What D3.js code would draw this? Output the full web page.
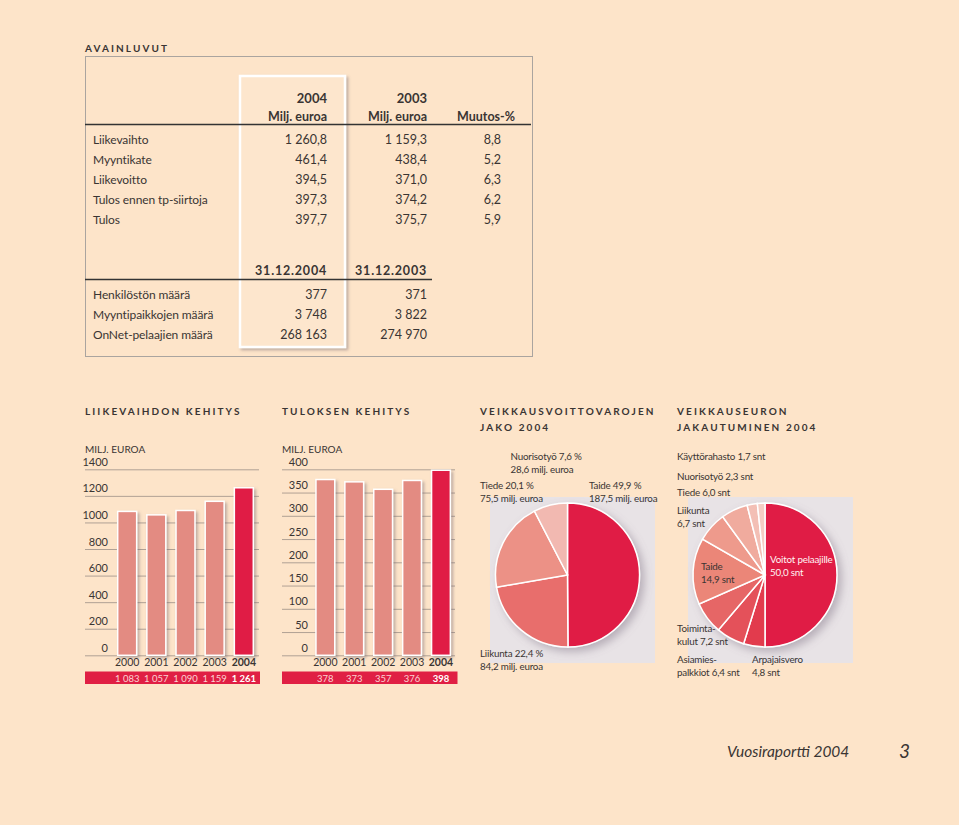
<!DOCTYPE html>
<html>
<head>
<meta charset="utf-8">
<script src="https://cdn.jsdelivr.net/npm/d3@7"></script>
<style>
  body { margin: 0; background: #fde4c9; }
  svg { display: block; font-family: Lato, "Noto Sans", sans-serif; }
</style>
</head>
<body>
<script>
// avainluvut table
var rowLabels = ['Liikevaihto', 'Myyntikate', 'Liikevoitto', 'Tulos ennen tp-siirtoja', 'Tulos'];
var rows2004 = ['1 260,8', '461,4', '394,5', '397,3', '397,7'];
var rows2003 = ['1 159,3', '438,4', '371,0', '374,2', '375,7'];
var rowsChange = ['8,8', '5,2', '6,3', '6,2', '5,9'];
var countLabels = ['Henkilöstön määrä', 'Myyntipaikkojen määrä', 'OnNet-pelaajien määrä'];
var counts2004 = ['377', '3 748', '268 163'];
var counts2003 = ['371', '3 822', '274 970'];

// bar charts
var years = ['2000', '2001', '2002', '2003', '2004'];
var revenue = [1083, 1057, 1090, 1159, 1261];
var revenueLabels = ['1 083', '1 057', '1 090', '1 159', '1 261'];
var revenueTicks = [0, 200, 400, 600, 800, 1000, 1200, 1400];
var profit = [378, 373, 357, 376, 398];
var profitTicks = [0, 50, 100, 150, 200, 250, 300, 350, 400];

// pies
var pie1Names = ['Taide', 'Liikunta', 'Tiede', 'Nuorisotyö'];
var pie1Values = [49.9, 22.4, 20.1, 7.6];
var pie1Colors = ['#e01f44', '#e86e6c', '#ec9186', '#f2b9b1'];

var pie2Names = ['Voitot pelaajille', 'Arpajaisvero', 'Asiamiespalkkiot', 'Toimintakulut', 'Taide', 'Liikunta', 'Tiede', 'Nuorisotyö', 'Käyttörahasto'];
var pie2Values = [50.0, 4.8, 6.4, 7.2, 14.9, 6.7, 6.0, 2.3, 1.7];
var pie2Colors = ['#e01f44', '#e23a4d', '#e4515a', '#e66666', '#eb8678', '#ee9a8c', '#f0ab9e', '#f3bfb5', '#f5cdc4'];

var red = '#e01f44';
var salmon = '#e38b82';
var ink = '#3a3533';

var svg = d3.select('body').append('svg')
  .attr('width', 959)
  .attr('height', 825);

var defs = svg.append('defs');
defs.append('filter').attr('id', 'shadow')
  .attr('x', '-20%').attr('y', '-20%').attr('width', '150%').attr('height', '150%')
  .append('feDropShadow')
  .attr('dx', 2).attr('dy', 2).attr('stdDeviation', 1.5)
  .attr('flood-color', '#6d6470').attr('flood-opacity', 0.45);
defs.append('filter').attr('id', 'softshadow')
  .attr('x', '-20%').attr('y', '-20%').attr('width', '150%').attr('height', '150%')
  .append('feDropShadow')
  .attr('dx', 4).attr('dy', 4).attr('stdDeviation', 4)
  .attr('flood-color', '#7a7080').attr('flood-opacity', 0.45);

function title(x, y, lines) {
  lines.forEach(function (t, i) {
    svg.append('text')
      .attr('x', x).attr('y', y + i * 16)
      .attr('font-size', 10).attr('font-weight', 'bold')
      .attr('letter-spacing', 2.1)
      .attr('fill', ink)
      .text(t);
  });
}

function txt(x, y, t, size, anchor, weight, fill) {
  return svg.append('text')
    .attr('x', x).attr('y', y)
    .attr('font-size', size || 12)
    .attr('text-anchor', anchor || 'start')
    .attr('font-weight', weight || 'normal')
    .attr('fill', fill || ink)
    .text(t);
}

// pie labels are a bit narrower
function small(x, y, t, fill) {
  return txt(x, y, t, 9.8, 'start', 'normal', fill).attr('letter-spacing', -0.2);
}

// ---------- table ----------
title(85, 52, ['AVAINLUVUT']);
svg.append('rect')
  .attr('x', 85.5).attr('y', 56.5).attr('width', 447).attr('height', 300)
  .attr('fill', 'none').attr('stroke', '#aaa49f').attr('stroke-width', 1);

svg.append('rect')
  .attr('x', 240).attr('y', 76).attr('width', 105).attr('height', 271)
  .attr('fill', '#fde6cd').attr('stroke', '#ffffff').attr('stroke-width', 2.5)
  .attr('filter', 'url(#shadow)');

txt(327, 103, '2004', 13, 'end', 'bold');
txt(427, 103, '2003', 13, 'end', 'bold');
txt(327, 121, 'Milj. euroa', 12.5, 'end', 'bold');
txt(427, 121, 'Milj. euroa', 12.5, 'end', 'bold');
txt(515, 121, 'Muutos-%', 12.5, 'end', 'bold');
svg.append('line')
  .attr('x1', 85).attr('x2', 531).attr('y1', 124.5).attr('y2', 124.5)
  .attr('stroke', '#333').attr('stroke-width', 1.3);

rowLabels.forEach(function (l, i) {
  var y = 144 + i * 20;
  txt(93, y, l).attr('letter-spacing', -0.1);
  txt(327, y, rows2004[i], 12.5, 'end');
  txt(427, y, rows2003[i], 12.5, 'end');
  txt(501, y, rowsChange[i], 12.5, 'end');
});

txt(327, 275, '31.12.2004', 12.5, 'end', 'bold').attr('letter-spacing', 0.8);
txt(427, 275, '31.12.2003', 12.5, 'end', 'bold').attr('letter-spacing', 0.8);
svg.append('line')
  .attr('x1', 85).attr('x2', 432).attr('y1', 279.5).attr('y2', 279.5)
  .attr('stroke', '#333').attr('stroke-width', 1.3);

countLabels.forEach(function (l, i) {
  var y = 299 + i * 20;
  txt(93, y, l).attr('letter-spacing', -0.1);
  txt(327, y, counts2004[i], 12.5, 'end');
  txt(427, y, counts2003[i], 12.5, 'end');
});

// ---------- bar charts ----------
function barChart(opt) {
  var g = svg.append('g');
  var y = d3.scaleLinear().domain([0, opt.max]).range([655.3, 469.3]);
  var x = d3.scaleBand().domain(years)
    .range([opt.bx0, opt.bx1]).paddingInner(0.35).paddingOuter(0.175);

  title(opt.left, 415, [opt.title]);
  txt(opt.left, 453, 'MILJ. EUROA', 10);

  var axis = d3.axisLeft(y).tickValues(opt.ticks)
    .tickSize(opt.right - opt.left).tickFormat(d3.format('d'));
  var ag = g.append('g')
    .attr('transform', 'translate(' + opt.right + ',0)')
    .call(axis);
  ag.select('.domain').remove();
  ag.selectAll('.tick line').attr('stroke', '#9c8f86').attr('stroke-width', 0.8);
  ag.selectAll('.tick text')
    .attr('x', opt.labelX - opt.right).attr('dy', -4)
    .attr('text-anchor', 'end')
    .attr('font-family', 'Lato, sans-serif')
    .attr('font-size', 11).attr('fill', ink);

  g.selectAll('rect.bar')
    .data(opt.values)
    .enter()
    .append('rect')
    .attr('class', 'bar')
    .attr('x', (d, i) => x(years[i]))
    .attr('width', x.bandwidth())
    .attr('y', d => y(d))
    .attr('height', d => y(0) - y(d))
    .attr('fill', (d, i) => i === years.length - 1 ? red : salmon)
    .attr('stroke', '#fff').attr('stroke-width', 1.5)
    .attr('filter', 'url(#shadow)');

  g.selectAll('text.year')
    .data(years)
    .enter()
    .append('text')
    .attr('class', 'year')
    .attr('x', d => x(d) + x.bandwidth() / 2)
    .attr('y', 665.5)
    .attr('text-anchor', 'middle')
    .attr('font-size', 10.5)
    .attr('font-weight', (d, i) => i === years.length - 1 ? 'bold' : 'normal')
    .attr('fill', ink)
    .text(d => d);

  g.append('rect')
    .attr('x', opt.left).attr('y', 671.5)
    .attr('width', opt.bandRight - opt.left).attr('height', 12.5)
    .attr('fill', red);

  g.selectAll('text.val')
    .data(opt.labels)
    .enter()
    .append('text')
    .attr('class', 'val')
    .attr('x', (d, i) => x(years[i]) + x.bandwidth() / 2)
    .attr('y', 681.5)
    .attr('text-anchor', 'middle')
    .attr('font-size', 9.5)
    .attr('font-weight', (d, i) => i === years.length - 1 ? 'bold' : 'normal')
    .attr('fill', (d, i) => i === years.length - 1 ? '#ffffff' : '#fbd3d3')
    .text(d => d);
}

barChart({
  title: 'LIIKEVAIHDON KEHITYS', max: 1400, ticks: revenueTicks, values: revenue,
  labels: revenueLabels, left: 85, right: 259, labelX: 108, bandRight: 260,
  bx0: 112.6, bx1: 258.4
});
barChart({
  title: 'TULOKSEN KEHITYS', max: 400, ticks: profitTicks, values: profit,
  labels: profit.map(String), left: 282, right: 455, labelX: 308, bandRight: 457.5,
  bx0: 310.9, bx1: 455.4
});

// ---------- pies ----------
function pieChart(cx, cy, names, values, colors, bg) {
  svg.append('rect')
    .attr('x', bg[0]).attr('y', bg[1]).attr('width', bg[2]).attr('height', bg[3])
    .attr('fill', '#e8e3e6');
  var arcs = d3.pie().sort(null).value(d => d)(values);
  var arc = d3.arc().innerRadius(0).outerRadius(72);
  var g = svg.append('g')
    .attr('transform', 'translate(' + cx + ',' + cy + ')')
    .attr('filter', 'url(#softshadow)');
  g.selectAll('path')
    .data(arcs)
    .enter()
    .append('path')
    .attr('d', arc)
    .attr('fill', (d, i) => colors[i])
    .attr('stroke', '#fff').attr('stroke-width', 1.5)
    .append('title').text((d, i) => names[i]);
}

title(480, 415, ['VEIKKAUSVOITTOVAROJEN', 'JAKO 2004']);
pieChart(567.5, 575, pie1Names, pie1Values, pie1Colors, [490, 497, 165, 166]);
small(510.5, 460, 'Nuorisotyö 7,6 %');
small(510.5, 472.5, '28,6 milj. euroa');
small(480, 489, 'Tiede 20,1 %');
small(480, 501.5, '75,5 milj. euroa');
small(589, 489, 'Taide 49,9  %');
small(589, 501.5, '187,5 milj. euroa');
small(480, 657, 'Liikunta 22,4 %');
small(480, 669.5, '84,2 milj. euroa');

title(677, 415, ['VEIKKAUSEURON', 'JAKAUTUMINEN 2004']);
pieChart(765, 575, pie2Names, pie2Values, pie2Colors, [688, 497, 165, 166]);
small(677, 460, 'Käyttörahasto 1,7 snt');
small(677, 480, 'Nuorisotyö 2,3 snt');
small(677, 496, 'Tiede 6,0 snt');
small(677, 514, 'Liikunta');
small(677, 527, '6,7 snt');
small(701, 570, 'Taide');
small(701, 583, '14,9 snt');
small(770, 563, 'Voitot pelaajille', '#fff3f3');
small(770, 576, '50,0 snt', '#fff3f3');
small(677, 632, 'Toiminta-');
small(677, 645, 'kulut 7,2 snt');
small(677, 663, 'Asiamies-');
small(677, 676, 'palkkiot 6,4 snt');
small(752, 663, 'Arpajaisvero');
small(752, 676, '4,8 snt');

// ---------- footer ----------
txt(727, 757, 'Vuosiraportti 2004', 15.5).attr('font-style', 'italic');
txt(899, 758, '3', 19).attr('font-style', 'italic');
</script>
</body>
</html>
